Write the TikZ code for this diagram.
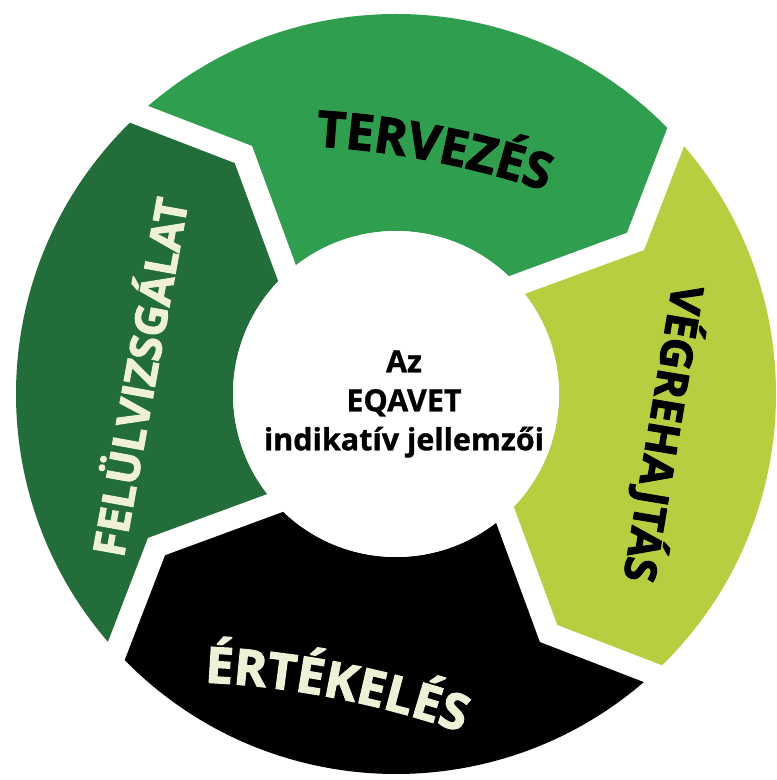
\documentclass[tikz,border=0pt]{standalone}
\usepackage{fontspec}
\setmainfont{Open Sans}
\newfontfamily\heavy{Open Sans}[FakeBold=2.2]
\newfontfamily\midheavy{Open Sans}[FakeBold=1.0]
\usetikzlibrary{decorations.text}
\definecolor{tgreen}{HTML}{2F9E4F}
\definecolor{lgreen}{HTML}{B6CF41}
\definecolor{dgreen}{HTML}{236D3B}
\definecolor{cream}{HTML}{EEF1D6}
\newcommand{\lblfont}[1]{\heavy\bfseries\fontsize{#1}{#1}\selectfont}
\tikzset{
  gapline/.style={white, line width=22pt, line join=miter, line cap=butt},
  seglabel/.style={inner sep=0pt, anchor=base},
}
\begin{document}
\begin{tikzpicture}[x=1pt,y=1pt]
\useasboundingbox (0,0) rectangle (777,780);
\fill[white] (0,0) rectangle (777,780);
\begin{scope}[shift={(396,386)}]
  % segments (flow clockwise)
  \fill[tgreen] (134:380) arc[start angle=134, end angle=44, radius=380]
     -- (32.5:284) -- (44:163) arc[start angle=44, end angle=134, radius=163]
     -- (122.5:284) -- cycle;
  \fill[lgreen] (44:380) arc[start angle=44, end angle=-46, radius=380]
     -- (-57.5:284) -- (-46:163) arc[start angle=-46, end angle=44, radius=163]
     -- (32.5:284) -- cycle;
  \fill[black] (-46:380) arc[start angle=-46, end angle=-136, radius=380]
     -- (-147.5:284) -- (-136:163) arc[start angle=-136, end angle=-46, radius=163]
     -- (-57.5:284) -- cycle;
  \fill[dgreen] (-136:380) arc[start angle=-136, end angle=-226, radius=380]
     -- (-237.5:284) -- (-226:163) arc[start angle=-226, end angle=-136, radius=163]
     -- (-147.5:284) -- cycle;
  % white gaps between segments
  \foreach \b in {44,134,224,314}{
    \draw[gapline] (\b:400) -- ({\b-11.5}:284) -- (\b:150);
  }
  % centre disc
  \node[circle, fill=white, minimum size=326pt, inner sep=0pt] (hub) at (0,0) {};
\end{scope}

% centre text
\node[inner sep=0pt, align=center, font=\midheavy\bfseries\fontsize{30.5}{39}\selectfont, text=black]
  (centre) at (404,376) {Az\\EQAVET\\indikatív jellemzői};

% curved labels
\path[decorate, shift={(260.3,-264.5)},
  decoration={text along path, text align=center,
    text={|\color{black}\lblfont{50}|TERVEZÉS}}]
  (95:900) arc[start angle=95, end angle=63, radius=900];
\path[decorate, shift={(163.3,-801.5)},
  decoration={text along path, text align=center,
    text={|\color{cream}\lblfont{50}|ÉRTÉKELÉS}}]
  (95:900) arc[start angle=95, end angle=63, radius=900];

% straight labels
\node[seglabel, rotate=-99.5, text=black, font=\lblfont{44}] (veg) at (648,349) {VÉGREHAJTÁS};
\node[seglabel, rotate=79.7, text=cream, font=\lblfont{44}] (fel) at (156,400) {FELÜLVIZSGÁLAT};
\end{tikzpicture}
\end{document}
